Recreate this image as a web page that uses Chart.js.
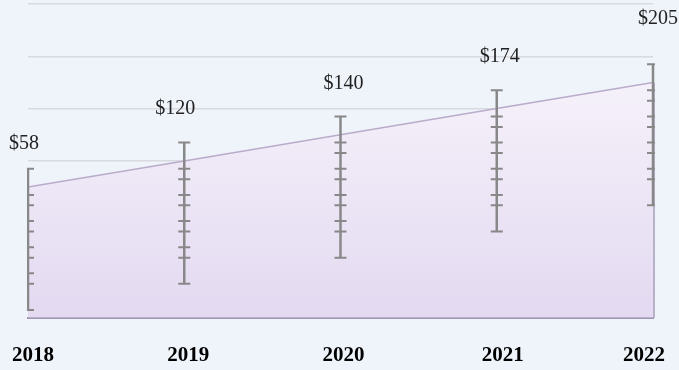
<!DOCTYPE html>
<html>
<head>
  <title>Revenue trend</title>
  <script src="https://cdn.jsdelivr.net/npm/chart.js"></script>
  <style>
    html, body {
        margin: 0;
        padding: 0;
        background-color: #eff3fa;
    }
    .chart-box {
        width: 679px;
        height: 370px;
    }
  </style>
</head>
<body>
  <div class="chart-box">
    <canvas id="trendChart"></canvas>
  </div>

  <script>
    // data
    const years = ['2018', '2019', '2020', '2021', '2022'];
    const trendValues = [50, 60, 70, 80, 90];
    const priceLabels = ['$58', '$120', '$140', '$174', '$205'];

    // centres of the stacked error bars at each year
    const errorCenters2018 = [50, 40, 30, 20, 10];
    const errorCenters2019 = [60, 50, 40, 30, 20];
    const errorCenters2020 = [70, 60, 50, 40, 30];
    const errorCenters2021 = [80, 70, 60, 50, 40];
    const errorCenters2022 = [90, 80, 70, 60, 50];
    const errorCenters = [errorCenters2018, errorCenters2019, errorCenters2020, errorCenters2021, errorCenters2022];
    const errorSpread = 7;

    const yTicks = [0, 20, 40, 60, 80, 100, 120];

    // label nudges in px (price labels from the top of each error bar, years along x)
    const labelNudge = [[-4, -25], [-9, -34], [3, -33], [3, -34], [5, -45]];
    const yearNudge = [5, 4, 3, 6, -9];

    const bgPlugin = {
        id: 'bg',
        beforeDraw(chart) {
            const c = chart.ctx;
            c.save();
            c.fillStyle = '#eff3fa';
            c.fillRect(0, 0, chart.width, chart.height);
            c.restore();
        }
    };

    const errorBarPlugin = {
        id: 'errorBars',
        afterDatasetsDraw(chart) {
            const c = chart.ctx;
            const x = chart.scales.x;
            const y = chart.scales.y;
            const area = chart.chartArea;
            const meta = chart.getDatasetMeta(0);

            // right edge of the filled area
            const last = meta.data[meta.data.length - 1];
            c.save();
            c.strokeStyle = '#a49cba';
            c.lineWidth = 1.5;
            c.beginPath();
            c.moveTo(last.x + 1, last.y);
            c.lineTo(last.x + 1, area.bottom);
            c.stroke();

            // error bars, clipped to the plot area
            c.beginPath();
            c.rect(area.left - 1, area.top, area.right - area.left + 3, area.bottom - area.top);
            c.clip();
            c.strokeStyle = '#888888';
            errorCenters.forEach((centers, i) => {
                const px = x.getPixelForValue(i);
                const top = y.getPixelForValue(Math.max(...centers) + errorSpread);
                const bottom = y.getPixelForValue(Math.min(...centers) - errorSpread);
                c.lineWidth = 2.5;
                c.beginPath();
                c.moveTo(px, top);
                c.lineTo(px, bottom);
                c.stroke();
                c.lineWidth = 2;
                centers.forEach(v => {
                    [v + errorSpread, v - errorSpread].forEach(e => {
                        const py = y.getPixelForValue(e);
                        c.beginPath();
                        c.moveTo(px - 6, py);
                        c.lineTo(px + 6, py);
                        c.stroke();
                    });
                });
            });
            c.restore();

            // price labels above each bar
            c.save();
            c.fillStyle = '#222222';
            c.font = '20px "Liberation Serif"';
            c.textAlign = 'center';
            c.textBaseline = 'middle';
            priceLabels.forEach((txt, i) => {
                const px = x.getPixelForValue(i);
                const top = y.getPixelForValue(Math.max(...errorCenters[i]) + errorSpread);
                c.fillText(txt, px + labelNudge[i][0], top + labelNudge[i][1]);
            });

            // year labels under the axis
            c.fillStyle = '#000000';
            c.font = 'bold 21px "Liberation Serif"';
            years.forEach((yr, i) => {
                c.fillText(yr, x.getPixelForValue(i) + yearNudge[i], area.bottom + 38);
            });
            c.restore();
        }
    };

    const ctx = document.getElementById('trendChart').getContext('2d');
    new Chart(ctx, {
        type: 'line',
        data: {
            labels: years,
            datasets: [{
                data: trendValues,
                borderColor: '#b9acca',
                borderWidth: 1.5,
                pointRadius: 0,
                tension: 0,
                fill: 'origin',
                backgroundColor: function(context) {
                    const area = context.chart.chartArea;
                    if (!area) return '#ece5f5';
                    const g = context.chart.ctx.createLinearGradient(0, area.top + 80, 0, area.bottom);
                    g.addColorStop(0, '#f5f1fa');
                    g.addColorStop(1, '#e3d9f1');
                    return g;
                }
            }]
        },
        options: {
            responsive: true,
            maintainAspectRatio: false,
            animation: false,
            layout: {
                padding: { left: 28, right: 26, top: 4, bottom: -23 }
            },
            scales: {
                x: {
                    offset: false,
                    afterFit(axis) {
                        axis.paddingLeft = 0;
                        axis.paddingRight = 0;
                    },
                    grid: { display: false, drawTicks: false },
                    border: { display: true, color: '#9d95b3', width: 2 },
                    ticks: {
                        padding: 25,
                        maxRotation: 0,
                        color: 'rgba(0,0,0,0)',
                        font: { family: 'Liberation Serif', size: 21, weight: 'bold' }
                    }
                },
                y: {
                    min: 0,
                    max: 120,
                    afterFit(axis) {
                        axis.width = 0;
                    },
                    afterBuildTicks(axis) {
                        axis.ticks = yTicks.map(v => ({ value: v }));
                    },
                    grid: { color: '#d8dadf', lineWidth: 1.5, drawTicks: false },
                    border: { display: false },
                    ticks: { display: false }
                }
            },
            plugins: {
                legend: { display: false },
                tooltip: { enabled: false }
            }
        },
        plugins: [bgPlugin, errorBarPlugin]
    });
  </script>
</body>
</html>
